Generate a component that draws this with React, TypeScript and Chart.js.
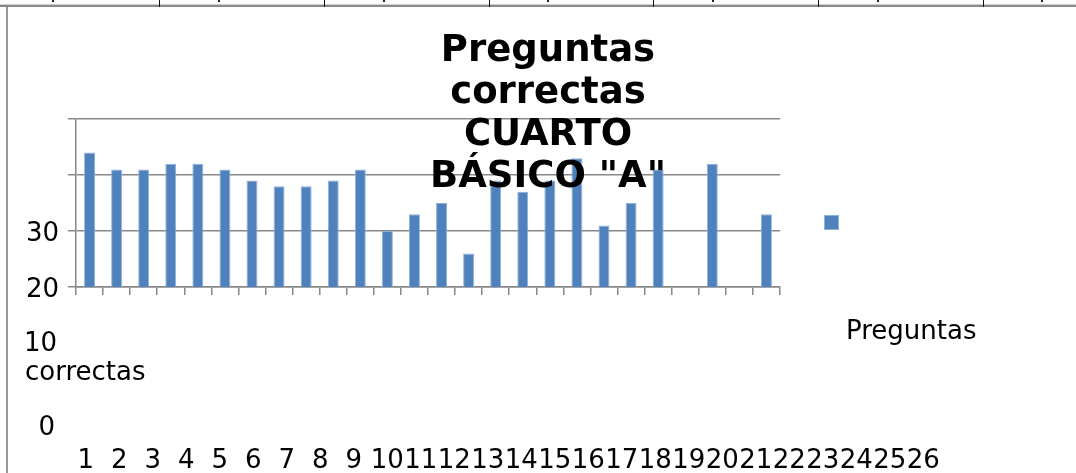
import React, { useEffect, useRef } from "react";
import { Chart, registerables } from "chart.js";

Chart.register(...registerables);

const categories: string[] = [
  "1", "2", "3", "4", "5", "6", "7", "8", "9", "10", "11", "12", "13",
  "14", "15", "16", "17", "18", "19", "20", "21", "22", "23", "24", "25", "26",
];
const correctas: (number | null)[] = [
  44, 41, 41, 42, 42, 41, 39, 38, 38, 39, 41, 30, 33,
  35, 26, 39, 37, 39, 43, 31, 35, 41, null, 42, null, 33,
];
const yTickValues: number[] = [30, 20, 10, 0];
const titleLines: string[] = ["Preguntas", "correctas", "CUARTO", "BÁSICO \"A\""];
const seriesName: string[] = ["Preguntas", "correctas"];

const FONT = "'DejaVu Sans', sans-serif";
const BLUE = "#4F81BD";
const GRID = "#888888";

export default function App() {
  const canvasRef = useRef<HTMLCanvasElement | null>(null);

  useEffect(() => {
    if (!canvasRef.current) return;
    const chart = new Chart(canvasRef.current, {
      type: "bar",
      data: {
        labels: categories,
        datasets: [
          {
            label: seriesName.join(" "),
            data: correctas,
            backgroundColor: BLUE,
            borderColor: "#8fb0d8",
            borderWidth: 1,
            barPercentage: 0.45,
            categoryPercentage: 0.9,
          },
        ],
      },
      options: {
        responsive: false,
        animation: false,
        layout: { padding: { left: 68, right: 296, top: 119, bottom: 178 } },
        plugins: {
          legend: { display: false },
          title: { display: false },
          tooltip: { enabled: false },
        },
        scales: {
          x: {
            offset: true,
            ticks: { display: false },
            grid: {
              offset: true,
              drawOnChartArea: false,
              drawTicks: true,
              tickLength: 8,
              color: GRID,
              lineWidth: 1.5,
            },
            border: { display: true, color: GRID, width: 1.5 },
          },
          y: {
            min: 20,
            max: 50,
            ticks: { display: false, stepSize: 10 },
            grid: {
              drawTicks: true,
              tickLength: 8,
              color: GRID,
              lineWidth: 1.5,
            },
            border: { display: true, color: GRID, width: 1.5 },
          },
        },
      },
    });
    return () => chart.destroy();
  }, []);

  const yTop: Record<number, number> = { 30: 217, 20: 273, 10: 327, 0: 411 };
  const yRight: Record<number, number> = { 30: 59, 20: 59, 10: 57, 0: 55 };
  const sheetLines = [159, 324, 489, 653, 818, 983];
  const sheetDots = [52, 218, 383, 547, 712, 877, 1041];

  return (
    <div
      style={{
        position: "absolute",
        left: 0,
        top: 0,
        width: 1076,
        height: 473,
        overflow: "hidden",
        background: "#fff",
        fontFamily: FONT,
      }}
    >
      <canvas
        ref={canvasRef}
        width={1076}
        height={473}
        style={{ position: "absolute", left: 0, top: 0, width: 1076, height: 473 }}
      />
      {/* sheet remnants */}
      <div style={{ position: "absolute", left: 0, top: 4, width: 1076, height: 1, background: "#cfcfcf" }} />
      <div style={{ position: "absolute", left: 0, top: 5, width: 1076, height: 2, background: "#8a8a8a" }} />
      <div style={{ position: "absolute", left: 6, top: 7, width: 2, height: 466, background: "#999" }} />
      {sheetLines.map((x) => (
        <div key={x} style={{ position: "absolute", left: x, top: 0, width: 1, height: 7, background: "#111" }} />
      ))}
      {sheetDots.map((x) => (
        <div key={"d" + x} style={{ position: "absolute", left: x, top: 0, width: 2, height: 2, background: "#222" }} />
      ))}
      {/* title */}
      <div
        style={{
          position: "absolute",
          left: 348,
          top: 28,
          width: 400,
          textAlign: "center",
          fontWeight: "bold",
          fontSize: 37,
          lineHeight: "42px",
          color: "#000",
        }}
      >
        {titleLines.map((l, i) => (
          <div key={i}>{l}</div>
        ))}
      </div>
      {/* y tick labels */}
      {yTickValues.map((v) => (
        <div
          key={v}
          style={{
            position: "absolute",
            left: 0,
            top: yTop[v],
            width: yRight[v],
            textAlign: "right",
            fontSize: 26,
            lineHeight: "normal",
            color: "#000",
          }}
        >
          {v}
        </div>
      ))}
      {/* broken axis title / legend text */}
      <div style={{ position: "absolute", left: 25, top: 356, fontSize: 26, color: "#000" }}>{seriesName[1]}</div>
      <div style={{ position: "absolute", left: 846, top: 315, fontSize: 26, color: "#000" }}>{seriesName[0]}</div>
      <div
        style={{
          position: "absolute",
          left: 824,
          top: 215,
          width: 13,
          height: 13,
          background: BLUE,
          border: "1px solid #8fb0d8",
        }}
      />
      {/* x labels */}
      <div style={{ position: "absolute", left: 69, top: 444, display: "flex", fontSize: 26, color: "#000" }}>
        {categories.map((c) => (
          <div key={c} style={{ width: 33.5, textAlign: "center", whiteSpace: "nowrap" }}>
            {c}
          </div>
        ))}
      </div>
    </div>
  );
}
